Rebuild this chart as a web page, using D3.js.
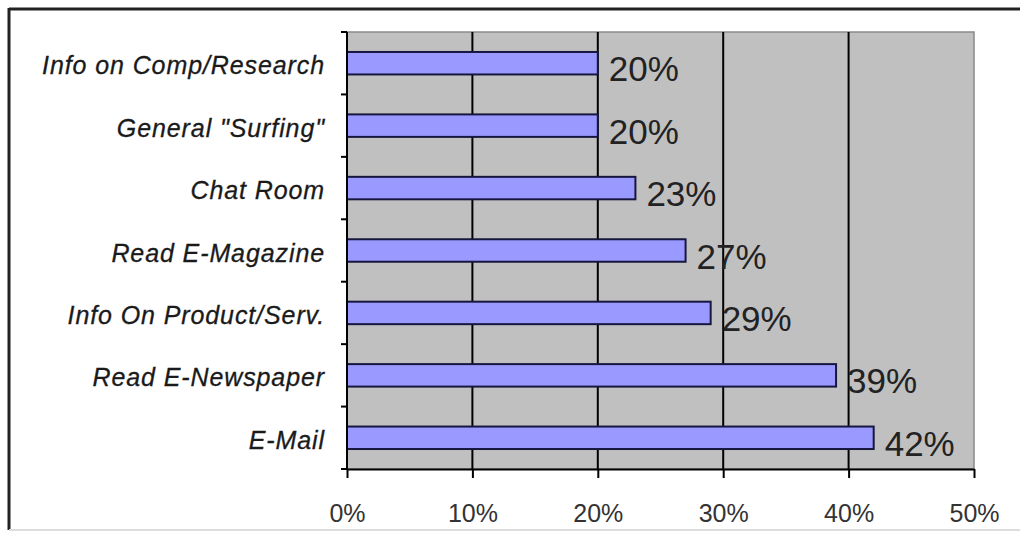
<!DOCTYPE html>
<html>
<head>
<meta charset="utf-8">
<script src="https://cdn.jsdelivr.net/npm/d3@7"></script>
<style>
  html, body { margin: 0; padding: 0; background: #fff; }
  svg { display: block; }
  text { font-family: "Liberation Sans", Arial, sans-serif; }
</style>
</head>
<body>
<svg id="chart" width="1020" height="534"></svg>
<script>
// Internet activities, share of users
const categories = [
  "Info on Comp/Research",
  "General \"Surfing\"",
  "Chat Room",
  "Read E-Magazine",
  "Info On Product/Serv.",
  "Read E-Newspaper",
  "E-Mail"
];
const values = [20, 20, 23, 27, 29, 39, 42];
const xTicks = [0, 10, 20, 30, 40, 50];

const svg = d3.select("#chart");
const W = 1020, H = 534;
const plot = { left: 347, right: 974, top: 32, bottom: 469 };

// outer frame
svg.append("line").attr("x1", 9).attr("x2", W + 5).attr("y1", 9).attr("y2", 9)
  .attr("stroke", "#222").attr("stroke-width", 3);
svg.append("line").attr("x1", 9).attr("x2", 9).attr("y1", 8).attr("y2", 530)
  .attr("stroke", "#222").attr("stroke-width", 3);
svg.append("line").attr("x1", 9).attr("x2", W).attr("y1", 530).attr("y2", 530)
  .attr("stroke", "#ddd").attr("stroke-width", 2);

const x = d3.scaleLinear().domain([0, 50]).range([plot.left, plot.right]);
const y = d3.scaleBand().domain(categories).range([plot.top, plot.bottom]).paddingInner(0.64).paddingOuter(0.32);
const band = d3.scaleBand().domain(categories).range([plot.top, plot.bottom]);

// plot background
svg.append("rect")
  .attr("x", plot.left).attr("y", plot.top)
  .attr("width", plot.right - plot.left).attr("height", plot.bottom - plot.top)
  .attr("fill", "#c0c0c0").attr("stroke", "#8a8a8a").attr("stroke-width", 1.5);

// vertical gridlines
svg.append("g").selectAll("line")
  .data(xTicks.slice(1, -1))
  .join("line")
  .attr("x1", d => x(d)).attr("x2", d => x(d))
  .attr("y1", plot.top).attr("y2", plot.bottom)
  .attr("stroke", "#000").attr("stroke-width", 2);

// bars
svg.append("g").selectAll("rect")
  .data(values)
  .join("rect")
  .attr("x", x(0))
  .attr("y", (d, i) => y(categories[i]))
  .attr("width", d => x(d) - x(0))
  .attr("height", y.bandwidth())
  .attr("fill", "#9999ff")
  .attr("stroke", "#16163e")
  .attr("stroke-width", 2);

// value labels
svg.append("g").selectAll("text")
  .data(values)
  .join("text")
  .attr("x", d => x(d) + 11)
  .attr("y", (d, i) => band(categories[i]) + band.bandwidth() / 2 + 18)
  .attr("font-size", 35)
  .attr("fill", "#222")
  .text(d => d + "%");

// x axis
const xAxis = d3.axisBottom(x).tickValues(xTicks).tickSize(9).tickSizeOuter(0).tickFormat(d => d + "%");
const gx = svg.append("g").attr("transform", `translate(0,${plot.bottom})`).call(xAxis);
gx.select(".domain").attr("stroke", "#000").attr("stroke-width", 2);
gx.selectAll(".tick line").attr("stroke", "#000").attr("stroke-width", 2);
gx.selectAll(".tick text")
  .attr("font-size", 25).attr("fill", "#333").attr("dy", 0).attr("y", 53)
  .attr("font-family", "'Liberation Sans', Arial, sans-serif");

// y axis: ticks at category boundaries
const gy = svg.append("g");
gy.append("line").attr("x1", plot.left).attr("x2", plot.left)
  .attr("y1", plot.top).attr("y2", plot.bottom)
  .attr("stroke", "#000").attr("stroke-width", 2);
gy.selectAll("line.tk")
  .data(categories.concat([null]))
  .join("line").attr("class", "tk")
  .attr("x1", plot.left - 6).attr("x2", plot.left)
  .attr("y1", (d, i) => plot.top + i * band.bandwidth())
  .attr("y2", (d, i) => plot.top + i * band.bandwidth())
  .attr("stroke", "#000").attr("stroke-width", 2);
gy.selectAll("text")
  .data(categories)
  .join("text")
  .attr("x", 325)
  .attr("y", d => band(d) + band.bandwidth() / 2 + 11)
  .attr("text-anchor", "end")
  .attr("font-size", 25)
  .attr("font-style", "italic")
  .attr("letter-spacing", 0.9)
  .attr("fill", "#1a1a1a")
  .attr("stroke", "#1a1a1a")
  .attr("stroke-width", 0.3)
  .text(d => d);
</script>
</body>
</html>
